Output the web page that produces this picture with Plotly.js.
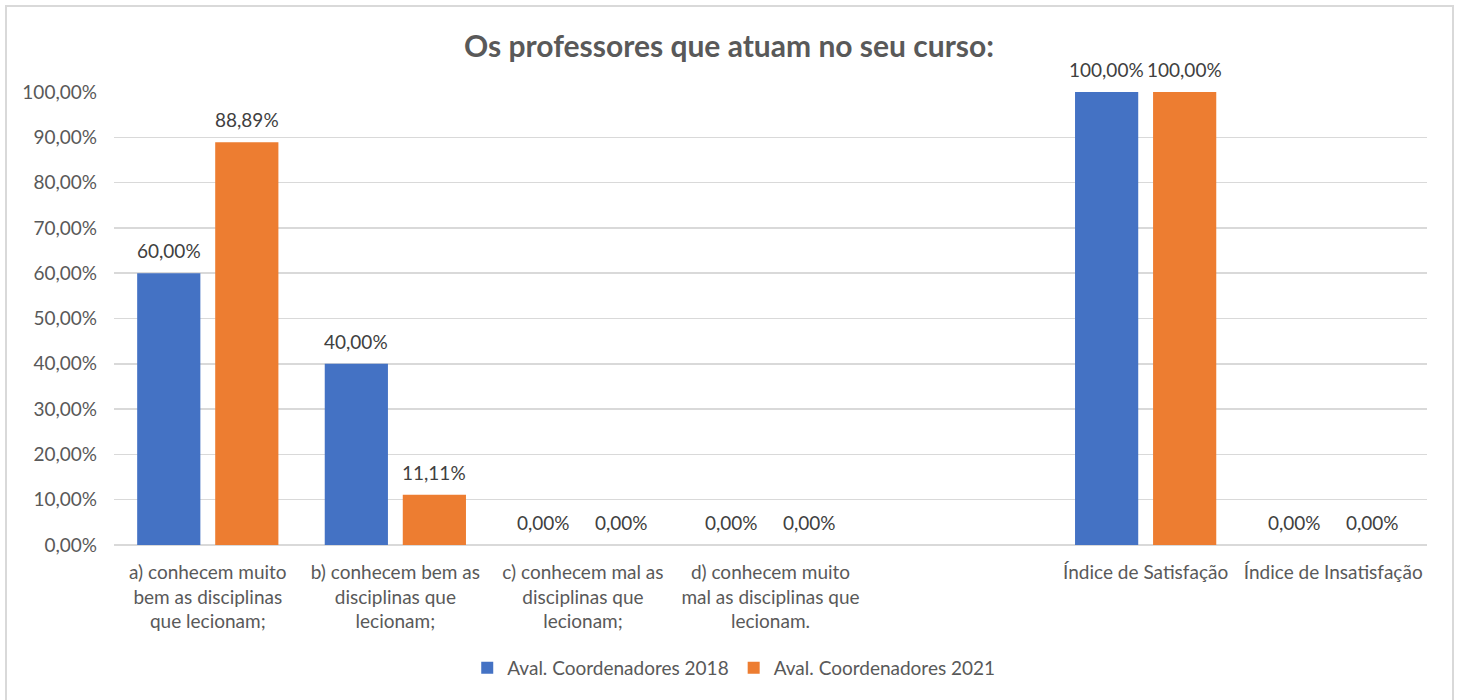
<!DOCTYPE html>
<html>
<head>
<meta charset="utf-8">
<script src="https://cdn.plot.ly/plotly-3.0.1.min.js"></script>
<style>
html,body{margin:0;padding:0;background:#fff;overflow:hidden;}
#chart{position:absolute;left:0;top:0;width:1458px;height:700px;}
#frame{position:absolute;left:5px;top:5px;width:1445px;height:720px;border:2px solid #d9d9d9;pointer-events:none;}
</style>
</head>
<body>
<div id="chart"></div>
<div id="frame"></div>
<script>
const categories = [
  "a) conhecem muito<br>bem as disciplinas<br>que lecionam;",
  "b) conhecem bem as<br>disciplinas que<br>lecionam;",
  "c) conhecem mal as<br>disciplinas que<br>lecionam;",
  "d) conhecem muito<br>mal as disciplinas que<br>lecionam.",
  " ",
  "Índice de Satisfação",
  "Índice de Insatisfação"
];
const seriesNames = ["Aval. Coordenadores 2018", "Aval. Coordenadores 2021"];
const values2018 = [0.60, 0.40, 0.00, 0.00, null, 1.00, 0.00];
const values2021 = [0.8889, 0.1111, 0.00, 0.00, null, 1.00, 0.00];
const yTicks = [0, 0.1, 0.2, 0.3, 0.4, 0.5, 0.6, 0.7, 0.8, 0.9, 1.0];

const colors = ["#4472c4", "#ed7d31"];
const FONT = "Lato, 'Open Sans', sans-serif";

function fmt(v){ return (v*100).toFixed(2).replace('.', ',') + '%'; }

const traces = [values2018, values2021].map((vals, i) => ({
  type: 'bar',
  name: seriesNames[i],
  x: categories,
  y: vals,
  marker: {color: colors[i]},
  hoverinfo: 'none'
}));

const annotations = [];
[values2018, values2021].forEach((vals, i) => {
  vals.forEach((v, j) => {
    if (v === null) return;
    annotations.push({
      x: categories[j], y: v, xref: 'x', yref: 'y',
      text: fmt(v), showarrow: false,
      xanchor: 'center', yanchor: 'bottom',
      xshift: i === 0 ? -39 : 39, yshift: 9,
      font: {family: FONT, size: 19, color: '#404040'}
    });
  });
});

const layout = {
  width: 1458, height: 700,
  margin: {l: 114, r: 31, t: 92, b: 155},
  paper_bgcolor: '#ffffff', plot_bgcolor: '#ffffff',
  separators: ',.',
  title: {
    text: '<b>Os professores que atuam no seu curso:</b>',
    font: {family: FONT, size: 30, color: '#595959'},
    x: 0.5, xanchor: 'center', y: 0.933, yanchor: 'middle', xref: 'container', yref: 'container'
  },
  barmode: 'group',
  bargap: 0.168,
  bargroupgap: 0.19,
  xaxis: {
    type: 'category',
    categoryorder: 'array', categoryarray: categories,
    showgrid: false, zeroline: false,
    showline: false, ticks: '',
    tickfont: {family: FONT, size: 19, color: '#595959'},
    tickangle: 0,
    ticklabelstandoff: 14,
    fixedrange: true
  },
  yaxis: {
    range: [0, 1],
    tickvals: yTicks,
    tickformat: '.2%',
    showgrid: true, gridcolor: '#d9d9d9', gridwidth: 1.5,
    zeroline: true, zerolinecolor: '#d9d9d9', zerolinewidth: 2,
    showline: false, ticks: '',
    tickfont: {family: FONT, size: 19, color: '#595959'},
    ticklabelstandoff: 16,
    fixedrange: true
  },
  showlegend: true,
  legend: {
    orientation: 'h', x: 0.472, xanchor: 'center', y: -0.2715, yanchor: 'middle',
    font: {family: FONT, size: 19, color: '#595959'},
    traceorder: 'normal'
  },
  annotations: annotations
};

Plotly.newPlot('chart', traces, layout, {staticPlot: true, displayModeBar: false});
</script>
</body>
</html>
